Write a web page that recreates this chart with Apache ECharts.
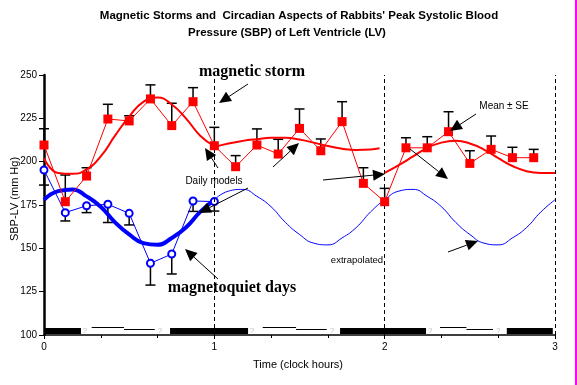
<!DOCTYPE html>
<html><head><meta charset="utf-8">
<script src="https://cdn.jsdelivr.net/npm/echarts@6/dist/echarts.min.js"></script>
<style>html,body{margin:0;padding:0;background:#fff}#c{width:577px;height:385px}</style>
</head><body><div id="c"></div>
<script>
// ---- data ----
const stormTimes = [0,0.125,0.25,0.375,0.5,0.625,0.75,0.875,1,1.125,1.25,1.375,1.5,1.625,1.75,1.875,2,2.125,2.25,2.375,2.5,2.625,2.75,2.875];
const stormMean = [209.6,176.9,191.7,224.6,223.5,236.2,220.8,234.6,209.2,197.1,209.6,204.4,219.2,206.3,223.1,187.5,176.9,208,208,217.3,199,207.1,202.3,202.3];
const stormUpperSE = [219,192.3,196.5,233.1,226.5,244.3,233.7,242.7,219.8,203.5,218.9,212.9,230.4,213.1,234.6,196.5,184.6,213.8,214.4,228.8,206.3,214.8,208.3,207.1];

const quietTimes = [0,0.125,0.25,0.375,0.5,0.625,0.75,0.875,1];
const quietMean = [195.2,170.6,174.6,175.4,170.2,141.4,146.7,177.3,177];
const quietLowerSE = [186.5,165.8,170.6,164.9,163.5,128.8,135.2,171.3,171.5];

const quietModelTimes = [0,0.083,0.167,0.25,0.333,0.417,0.5,0.583,0.667,0.75,0.833,0.917,1,1.083,1.167,1.25,1.333,1.417,1.5,1.583,1.667,1.75,1.833,1.917,2,2.083,2.167,2.25,2.333,2.417,2.5,2.583,2.667,2.75,2.833,2.917,3];
const quietModel = [178,183,184,180,174,165,158,153,152,156,162,171,178,183,184,180,174,165,158,153,152,156,162,171,178,183,184,180,174,165,158,153,152,156,162,171,178];

const stormModel1Times = [0,0.083,0.167,0.25,0.333,0.417,0.5,0.583,0.667,0.75,0.833,0.917,1];
const stormModel1 = [202,193.5,193,195.5,203,215,226,234.5,237,233,225,215,209];
const stormModel2Times = [1,1.083,1.167,1.25,1.333,1.417,1.5,1.583,1.667,1.75,1.833,1.917,1.97];
const stormModel2 = [208.5,210.5,212,213,213.8,213.8,212.8,211,209,207.5,206.8,207,207.7];
const stormModel3Times = [2,2.083,2.167,2.25,2.333,2.417,2.5,2.583,2.667,2.75,2.833,2.917,3];
const stormModel3 = [193.5,198,203,208,211,212,210.5,207,202,197.5,194.5,193.5,193.5];

const darkStart = [0,0.74,1.738,2.717];
const darkEnd = [0.217,1.198,2.243,2.987];
const lightStart = [0.28,1.284,2.325];
const lightMid = [0.47,1.48,2.48];
const lightEnd = [0.65,1.66,2.636];
const unknownMarks = [0.241,0.681,1.221,1.691,2.267,2.666];

const dayBoundaries = [1,2,3];
const xTicks = [0,1,2,3];
const yTicks = [100,125,150,175,200,225,250];

// ---- build ----
const zip = (xs, ys) => xs.map((x, i) => [x, ys[i]]);
const RED = '#ff0000', BLUE = '#0000ff';

function errorBars(xs, ys, es) {
  return {
    type: 'custom', z: 1, clip: false,
    data: xs.map((x, i) => [x, ys[i], es[i]]),
    renderItem: (params, api) => {
      const p1 = api.coord([api.value(0), api.value(1)]);
      const p2 = api.coord([api.value(0), api.value(2)]);
      return { type: 'group', children: [
        { type: 'line', shape: { x1: p1[0], y1: p1[1], x2: p2[0], y2: p2[1] }, style: { stroke: '#000', lineWidth: 1.5 } },
        { type: 'line', shape: { x1: p2[0] - 5, y1: p2[1], x2: p2[0] + 5, y2: p2[1] }, style: { stroke: '#000', lineWidth: 1.5 } }
      ]};
    }
  };
}

const bandSeries = {
  type: 'custom', z: 3, clip: false,
  data: [0],
  renderItem: (params, api) => {
    const children = [];
    const y0 = api.coord([0, 100])[1];
    darkStart.forEach((s, i) => {
      const a = api.coord([s, 100]), b = api.coord([darkEnd[i], 100]);
      children.push({ type: 'rect', shape: { x: a[0], y: y0 - 7, width: b[0] - a[0], height: 6 }, style: { fill: '#000' } });
    });
    lightStart.forEach((s, i) => {
      const a = api.coord([s, 100]), m = api.coord([lightMid[i], 100]), e = api.coord([lightEnd[i], 100]);
      children.push({ type: 'line', shape: { x1: a[0], y1: y0 - 7.5, x2: m[0], y2: y0 - 7.5 }, style: { stroke: '#000', lineWidth: 1 } });
      children.push({ type: 'line', shape: { x1: m[0], y1: y0 - 5.5, x2: e[0], y2: y0 - 5.5 }, style: { stroke: '#000', lineWidth: 1 } });
    });
    unknownMarks.forEach(t => {
      const a = api.coord([t, 100]);
      children.push({ type: 'text', style: { text: '?', x: a[0], y: y0 - 4, align: 'center', verticalAlign: 'middle', fontSize: 8, fontFamily: 'Liberation Sans, Arial', fill: '#bbbbbb' } });
    });
    return { type: 'group', children };
  }
};

function arrow(x1, y1, x2, y2) {
  const dx = x2 - x1, dy = y2 - y1, L = Math.hypot(dx, dy), ux = dx / L, uy = dy / L;
  const hl = 12, hw = 5.5;
  const bx = x2 - ux * hl, by = y2 - uy * hl;
  return [
    { type: 'line', z: 100, shape: { x1, y1, x2: bx, y2: by }, style: { stroke: '#000', lineWidth: 1 } },
    { type: 'polygon', z: 100, shape: { points: [[x2, y2], [bx - uy * hw, by + ux * hw], [bx + uy * hw, by - ux * hw]] }, style: { fill: '#000' } }
  ];
}
function txt(x, y, s, size, opts) {
  return Object.assign({ type: 'text', z: 100, x, y, style: Object.assign({ text: s, fontSize: size, fontFamily: 'Liberation Sans, Arial, sans-serif', fill: '#000', align: 'center', verticalAlign: 'middle' }, opts || {}) });
}
const serifBold = { fontFamily: 'Liberation Serif, Times New Roman, serif', fontWeight: 'bold' };

const graphics = [
  txt(299, 16, "Magnetic Storms and  Circadian Aspects of Rabbits' Peak Systolic Blood", 11.5, { fontWeight: 'bold' }),
  txt(287, 32.5, 'Pressure (SBP) of Left Ventricle (LV)', 11.5, { fontWeight: 'bold' }),
  txt(252, 72, 'magnetic storm', 16, serifBold),
  txt(232, 288, 'magnetoquiet days', 16, serifBold),
  txt(214, 181, 'Daily models', 10),
  txt(504, 106, 'Mean \u00b1 SE', 10),
  txt(357, 260, 'extrapolated', 9.5),
  txt(298, 365, 'Time (clock hours)', 11),
  { type: 'text', z: 100, x: 15, y: 199, rotation: Math.PI / 2, style: { text: 'SBP-LV (mm Hg)', fontSize: 11, fontFamily: 'Liberation Sans, Arial, sans-serif', fill: '#000', align: 'center', verticalAlign: 'middle' } },
  { type: 'rect', z: 100, shape: { x: 575, y: 0, width: 2, height: 385 }, style: { fill: '#ff00ff' } },
  ...arrow(248, 84, 219, 103),
  ...arrow(218, 168, 205, 148),
  ...arrow(248, 188, 199, 213),
  ...arrow(273, 167, 299, 143),
  ...arrow(323, 180, 385, 174),
  ...arrow(476, 114, 450, 131),
  ...arrow(410, 149, 448, 179),
  ...arrow(448, 252, 478, 241),
  ...arrow(218, 279, 185, 249)
];

const option = {
  backgroundColor: '#fff',
  animation: false,
  grid: { left: 44, right: 22, top: 75, bottom: 50 },
  xAxis: {
    type: 'value', min: xTicks[0], max: xTicks[xTicks.length - 1], interval: 1,
    axisLine: { lineStyle: { color: '#000', width: 1.5 } },
    axisTick: { show: true, length: 4, lineStyle: { color: '#000' } },
    minorTick: { show: true, splitNumber: 3, length: 3, lineStyle: { color: '#000' } },
    axisLabel: { fontSize: 10, color: '#000', margin: 7, fontFamily: 'Liberation Sans, Arial' },
    splitLine: { show: false }
  },
  yAxis: {
    type: 'value', min: yTicks[0], max: yTicks[yTicks.length - 1], interval: 25,
    axisLine: { show: true, lineStyle: { color: '#000', width: 2.5 } },
    axisTick: { show: true, length: 5, lineStyle: { color: '#000', width: 1 } },
    axisLabel: { fontSize: 10, color: '#000', margin: 7, fontFamily: 'Liberation Sans, Arial' },
    splitLine: { show: false }
  },
  graphic: graphics,
  series: [
    { type: 'line', data: [], markLine: { silent: true, symbol: 'none', label: { show: false },
        lineStyle: { color: '#000', width: 1, type: [4, 3] }, data: dayBoundaries.map(d => ({ xAxis: d })) } },
    errorBars(stormTimes, stormMean, stormUpperSE),
    errorBars(quietTimes, quietMean, quietLowerSE),
    { type: 'line', z: 2, data: zip(quietModelTimes.slice(12), quietModel.slice(12)), smooth: true, symbol: 'none', lineStyle: { color: BLUE, width: 1 } },
    { type: 'line', z: 2, data: zip(quietModelTimes.slice(0, 13), quietModel.slice(0, 13)), smooth: true, symbol: 'none', lineStyle: { color: BLUE, width: 4 } },
    { type: 'line', z: 2, data: zip(stormModel1Times, stormModel1), smooth: true, symbol: 'none', lineStyle: { color: RED, width: 2 } },
    { type: 'line', z: 2, data: zip(stormModel2Times, stormModel2), smooth: true, symbol: 'none', lineStyle: { color: RED, width: 2 } },
    { type: 'line', z: 2, data: zip(stormModel3Times, stormModel3), smooth: true, symbol: 'none', lineStyle: { color: RED, width: 2 } },
    { type: 'line', z: 4, clip: false, data: zip(quietTimes, quietMean), symbol: 'emptyCircle', symbolSize: 7,
      itemStyle: { color: BLUE, borderColor: BLUE, borderWidth: 1 }, lineStyle: { color: BLUE, width: 1 } },
    { type: 'line', z: 5, clip: false, data: zip(stormTimes, stormMean), symbol: 'rect', symbolSize: 9,
      itemStyle: { color: RED }, lineStyle: { color: RED, width: 1 } },
    bandSeries
  ]
};
const chart = echarts.init(document.getElementById('c'), null, { renderer: 'canvas' });
chart.setOption(option);
</script></body></html>
